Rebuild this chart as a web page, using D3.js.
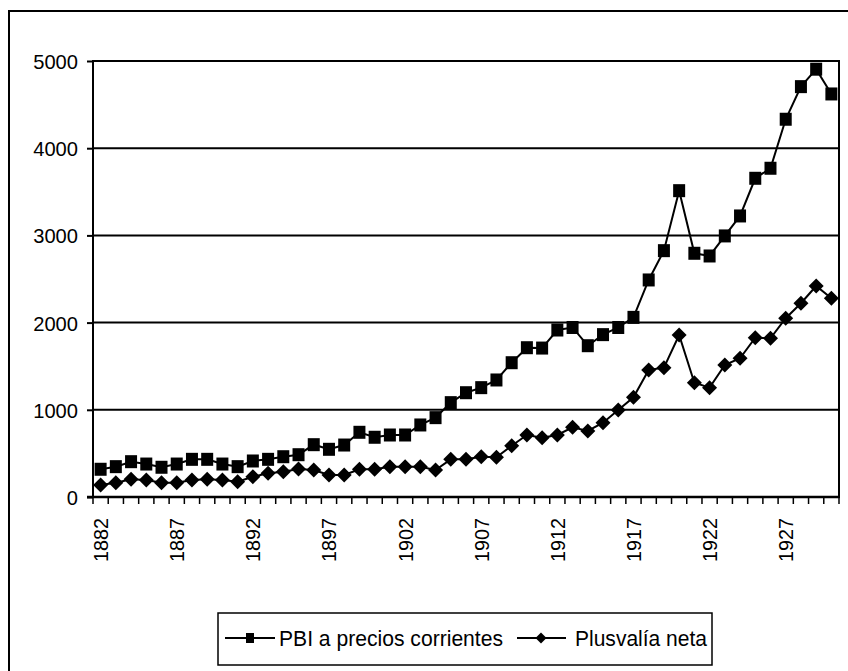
<!DOCTYPE html>
<html>
<head>
<meta charset="utf-8">
<script src="https://cdn.jsdelivr.net/npm/d3@7"></script>
<style>
  html, body { margin: 0; padding: 0; background: #fff; }
  svg { display: block; }
  text { font-family: "Liberation Sans", Arial, sans-serif; fill: #000; }
</style>
</head>
<body>
<svg id="chart" width="848" height="671"></svg>
<script>
const years = d3.range(1882, 1931).map(String);
const pbi = [318, 348, 405, 378, 341, 378, 432, 432, 378, 348,
             413, 432, 462, 485, 600, 547, 596, 742, 685, 711,
             711, 826, 910, 1082, 1196, 1254, 1342, 1540, 1712, 1708,
             1915, 1944, 1735, 1862, 1944, 2060, 2489, 2825, 3513, 2795,
             2764, 2994, 3223, 3655, 3770, 4332, 4706, 4906, 4622];
const plusvalia = [138, 164, 203, 195, 164, 164, 195, 203, 195, 175,
                   233, 272, 290, 320, 310, 252, 252, 318, 318, 348,
                   348, 348, 310, 432, 432, 462, 455, 588, 711, 680,
                   711, 799, 757, 852, 998, 1144, 1457, 1483, 1858, 1311,
                   1254, 1514, 1591, 1827, 1820, 2050, 2222, 2420, 2279];
const yTicks = [0, 1000, 2000, 3000, 4000, 5000];
const xLabels = ["1882", "1887", "1892", "1897", "1902", "1907", "1912", "1917", "1922", "1927"];
const seriesNames = ["PBI a precios corrientes", "Plusvalía neta"];

const svg = d3.select("#chart");
const L = 93, R = 839, T = 61, B = 497;

// outer chart border
svg.append("rect").attr("x", 9).attr("y", 11).attr("width", 860).attr("height", 700)
  .attr("fill", "none").attr("stroke", "#000").attr("stroke-width", 2);

const x = d3.scaleBand().domain(years).range([L, R]).padding(0);
const y = d3.scaleLinear().domain([0, 5000]).range([B, T]);
const cx = d => x(d) + x.bandwidth() / 2;

// gridlines
svg.append("g").selectAll("line").data(yTicks.filter(v => v > 0)).join("line")
  .attr("x1", L).attr("x2", R).attr("y1", d => y(d)).attr("y2", d => y(d))
  .attr("stroke", "#000").attr("stroke-width", 2);

// plot right border
svg.append("line").attr("x1", R).attr("x2", R).attr("y1", T - 1).attr("y2", B)
  .attr("stroke", "#000").attr("stroke-width", 2);

// y axis
const yAxis = svg.append("g").attr("transform", `translate(${L},0)`)
  .call(d3.axisLeft(y).tickValues(yTicks).tickSize(6).tickPadding(9).tickFormat(d3.format("d")));
yAxis.select(".domain").attr("stroke", "#000").attr("stroke-width", 2).attr("d", `M0,${T - 1}V${B + 1}`);
yAxis.selectAll(".tick line").attr("stroke", "#000").attr("stroke-width", 2);
yAxis.selectAll(".tick text").attr("font-size", 21).attr("font-family", "Liberation Sans, Arial, sans-serif")
  .attr("dy", "0.36em")
  .each(function(d) { const t = String(d); d3.select(this).attr("textLength", t.length * 11.2).attr("lengthAdjust", "spacingAndGlyphs"); });

// x axis line
svg.append("line").attr("x1", L - 6).attr("x2", R + 1).attr("y1", B).attr("y2", B)
  .attr("stroke", "#000").attr("stroke-width", 2.5);
// x ticks at category boundaries
const bounds = years.map(d => x(d)).concat([R]);
svg.append("g").selectAll("line").data(bounds).join("line")
  .attr("x1", d => d).attr("x2", d => d).attr("y1", B).attr("y2", B + 7)
  .attr("stroke", "#000").attr("stroke-width", 1.5);
// x labels
svg.append("g").selectAll("text").data(xLabels).join("text")
  .attr("transform", d => `translate(${cx(d) + 7.5},${518}) rotate(-90)`)
  .attr("text-anchor", "end").attr("font-size", 21)
  .attr("textLength", 44).attr("lengthAdjust", "spacingAndGlyphs")
  .text(d => d);

// lines
const line = d3.line().x((d, i) => cx(years[i])).y(d => y(d));
svg.append("path").datum(pbi).attr("d", line).attr("fill", "none").attr("stroke", "#000").attr("stroke-width", 2);
svg.append("path").datum(plusvalia).attr("d", line).attr("fill", "none").attr("stroke", "#000").attr("stroke-width", 2);

// markers
const sq = 12;
svg.append("g").selectAll("rect").data(pbi).join("rect")
  .attr("x", (d, i) => cx(years[i]) - sq / 2).attr("y", d => y(d) - sq / 2 - 0.5)
  .attr("width", sq).attr("height", sq + 1).attr("fill", "#000");
const dm = 7.5;
const diamond = (px, py, r) => `M${px},${py - r}L${px + r},${py}L${px},${py + r}L${px - r},${py}Z`;
svg.append("g").selectAll("path").data(plusvalia).join("path")
  .attr("d", (d, i) => diamond(cx(years[i]), y(d), dm)).attr("fill", "#000");

// legend
const lg = svg.append("g");
lg.append("rect").attr("x", 218).attr("y", 613).attr("width", 494).attr("height", 52)
  .attr("fill", "#fff").attr("stroke", "#000").attr("stroke-width", 1.5);
const ly = 638;
lg.append("line").attr("x1", 225).attr("x2", 275).attr("y1", ly).attr("y2", ly).attr("stroke", "#000").attr("stroke-width", 2);
lg.append("rect").attr("x", 246).attr("y", ly - 5).attr("width", 8).attr("height", 10).attr("fill", "#000");
lg.append("text").attr("x", 279).attr("y", ly).attr("dy", "0.36em").attr("font-size", 22)
  .attr("textLength", 224).attr("lengthAdjust", "spacingAndGlyphs").text(seriesNames[0]);
lg.append("line").attr("x1", 517).attr("x2", 566).attr("y1", ly).attr("y2", ly).attr("stroke", "#000").attr("stroke-width", 2);
lg.append("path").attr("d", diamond(541, ly, 5.5)).attr("fill", "#000");
lg.append("text").attr("x", 575).attr("y", ly).attr("dy", "0.36em").attr("font-size", 22)
  .attr("textLength", 132).attr("lengthAdjust", "spacingAndGlyphs").text(seriesNames[1]);
</script>
</body>
</html>
